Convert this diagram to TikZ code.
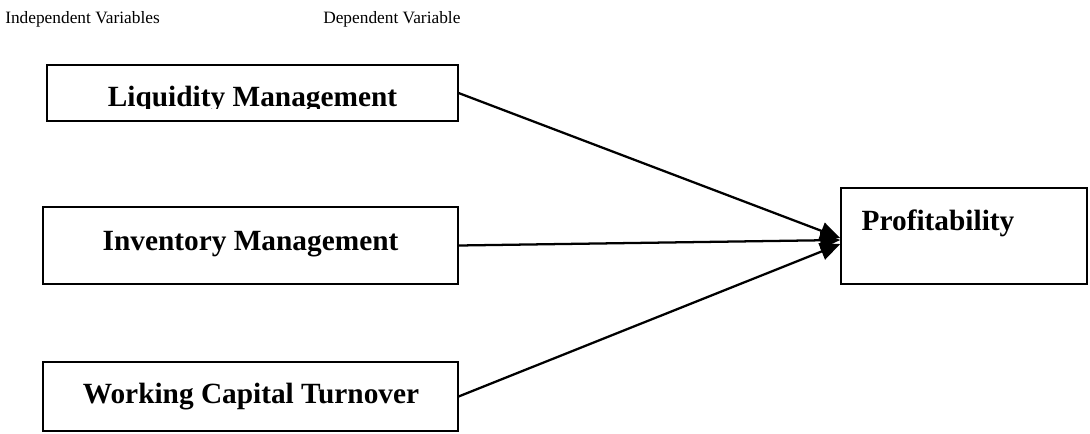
\documentclass[tikz,border=0pt]{standalone}
\usepackage{fontspec}
\setmainfont{Liberation Serif}
\usetikzlibrary{arrows.meta}

\begin{document}
\begin{tikzpicture}[x=0.75pt,y=-0.75pt,
    varbox/.style={draw,line width=1.1pt,inner sep=0pt},
    boldtext/.style={font=\fontsize{22}{26}\selectfont\bfseries,anchor=base,inner sep=0pt},
    headtext/.style={font=\fontsize{13}{15}\selectfont,anchor=base west,inner sep=0pt},
    link/.style={line width=1.7pt,-{Triangle[length=15pt,width=13pt]}}]
  \useasboundingbox (0,0) rectangle (1090,433);
  \node[headtext] (indep) at (5,23) {Independent Variables};
  \node[headtext] (dep) at (323,23) {Dependent Variable};
  \node[varbox,minimum width=308pt,minimum height=42pt] (liq) at (252.5,93) {};
  \node[varbox,minimum width=311pt,minimum height=58pt] (inv) at (250.5,245.5) {};
  \node[varbox,minimum width=311pt,minimum height=52pt] (work) at (250.5,396.5) {};
  \node[varbox,minimum width=184.5pt,minimum height=72pt] (prof) at (964,236) {};
  \begin{scope}
    \clip (liq.north west) rectangle (458,108);
    \node[boldtext] (liqtext) at (252.5,106) {Liquidity Management};
  \end{scope}
  \node[boldtext] (invtext) at (250.5,250) {Inventory Management};
  \node[boldtext] (worktext) at (251,403) {Working Capital Turnover};
  \node[boldtext] (proftext) at (938,230) {Profitability};
  \coordinate (tipa) at ([yshift=-1.5pt]prof.west);
  \coordinate (tipb) at ([yshift=-3pt]prof.west);
  \coordinate (tipc) at ([yshift=-6pt]prof.west);
  \draw[link] (liq.east) -- (tipa);
  \draw[link] (inv.east) -- (tipb);
  \draw[link] (work.east) -- (tipc);
\end{tikzpicture}
\end{document}
